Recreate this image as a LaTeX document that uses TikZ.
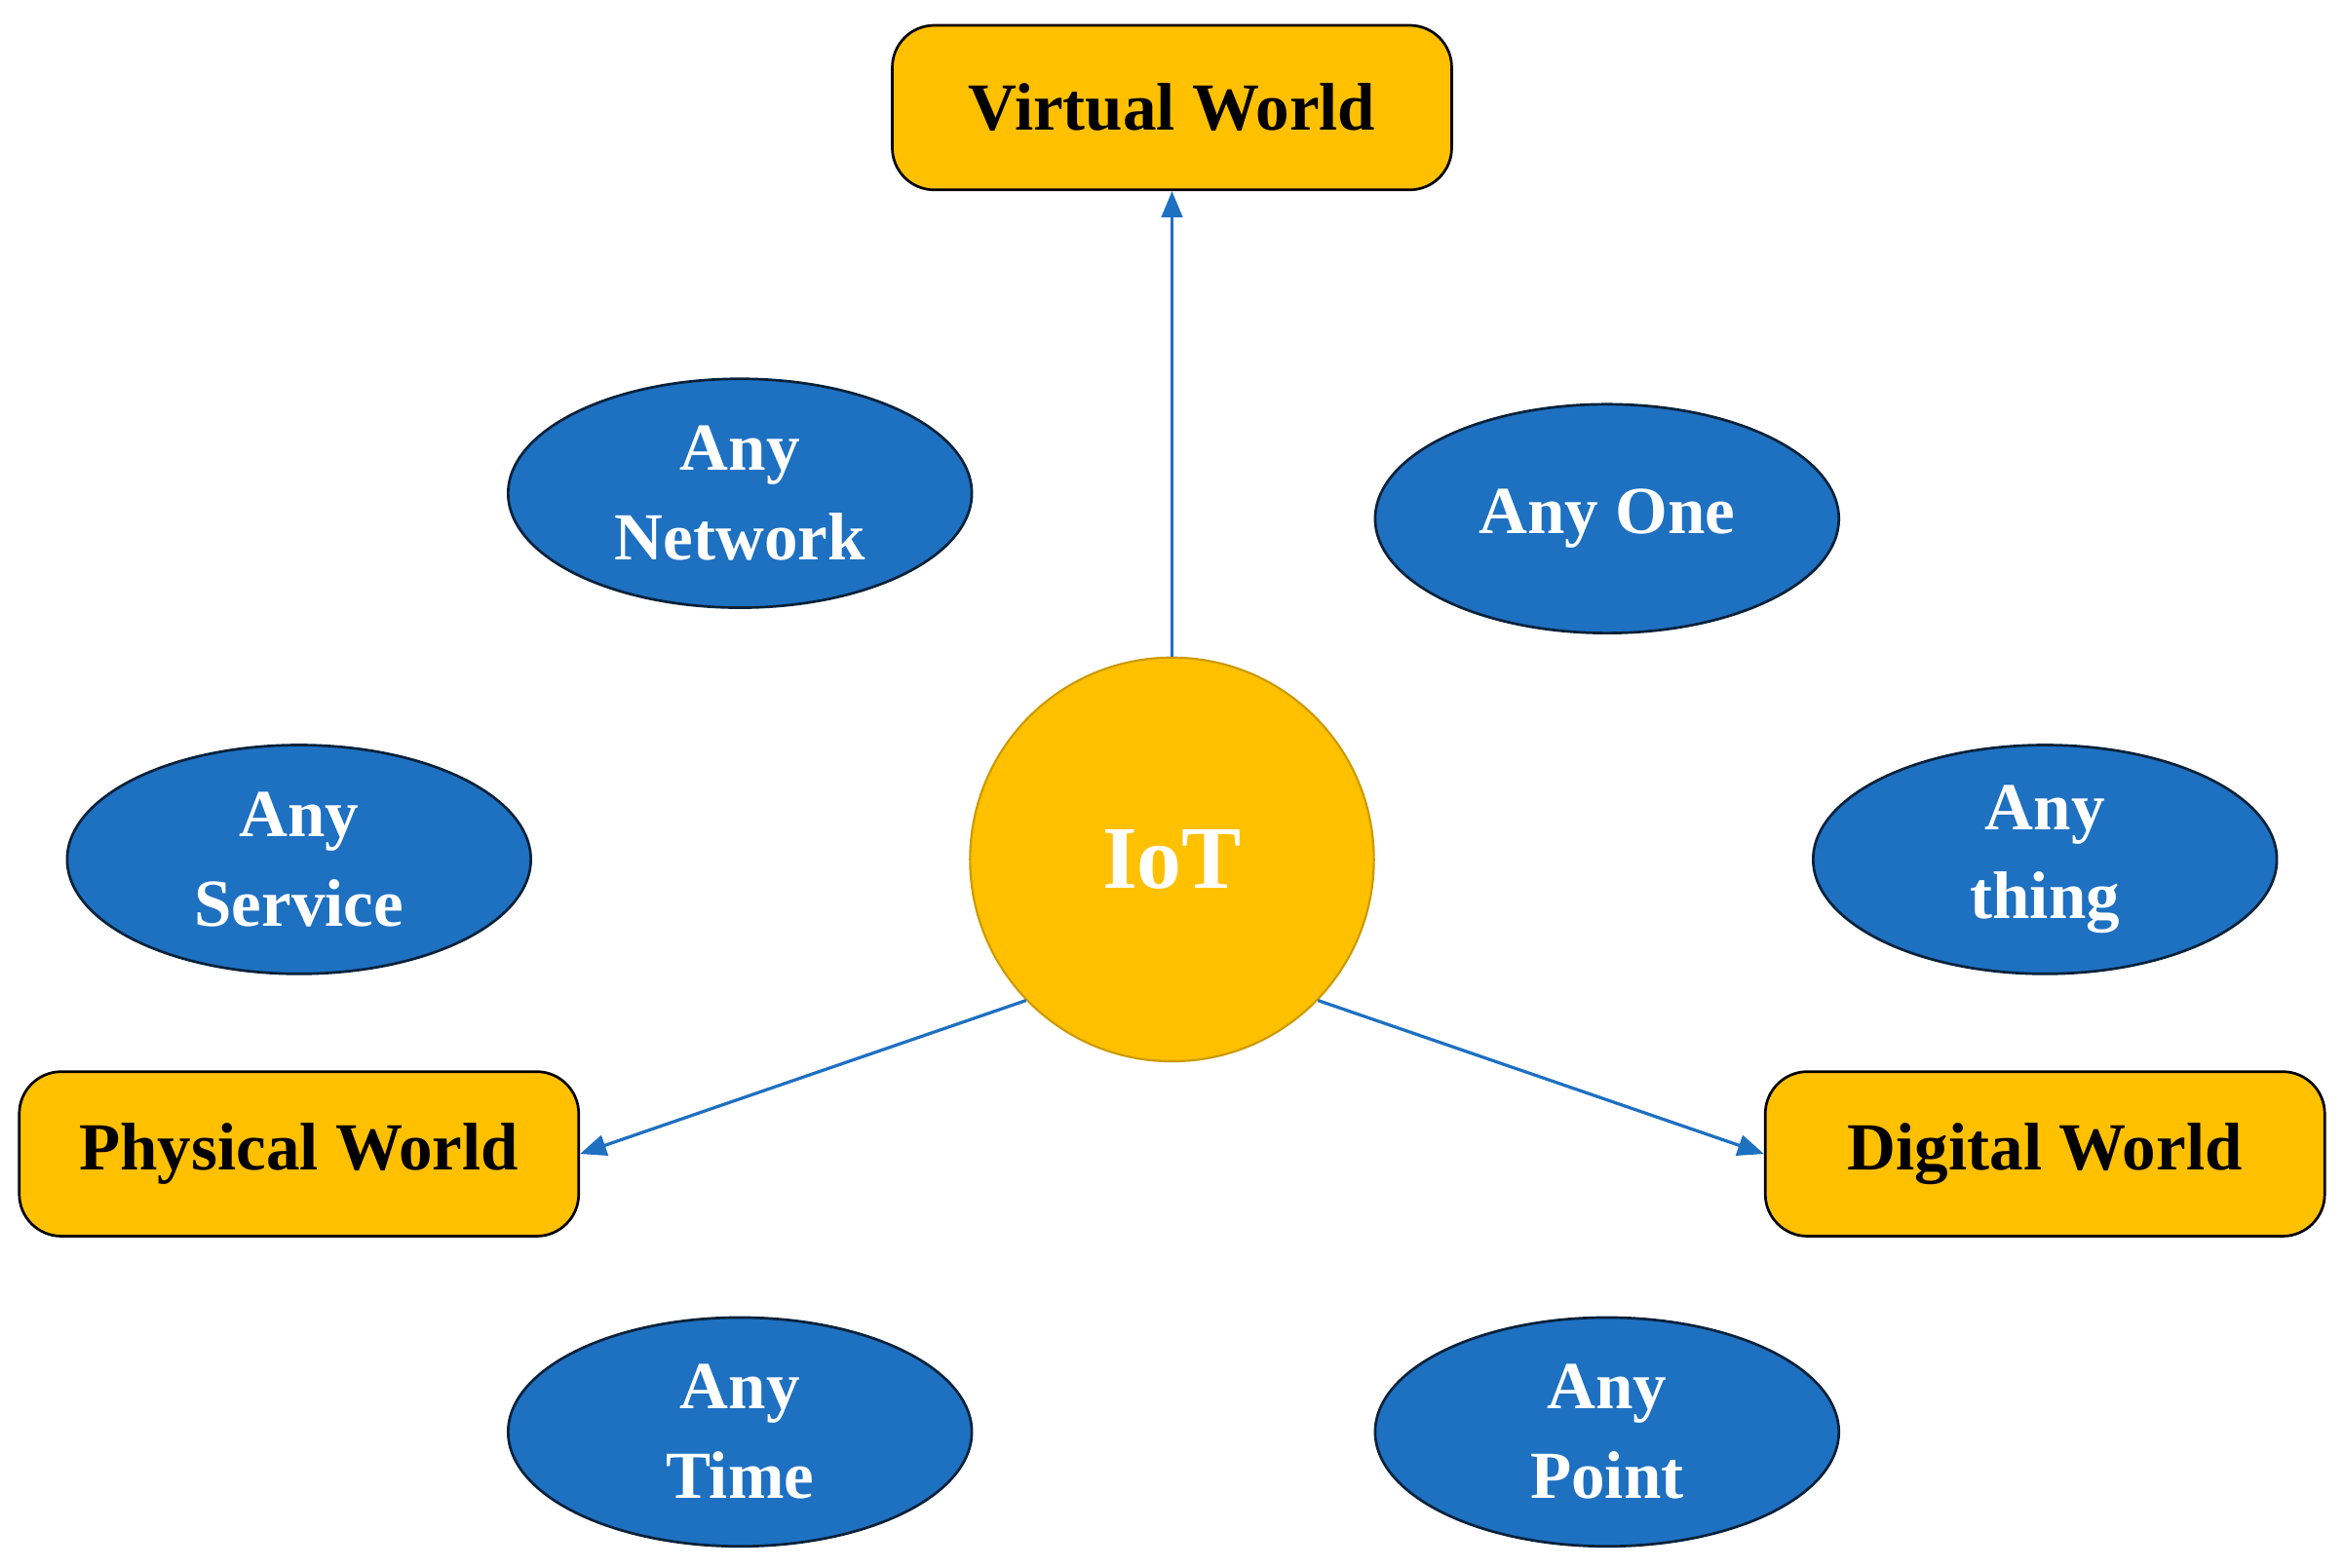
\documentclass[tikz,border=0pt]{standalone}
\usepackage{fontspec}
\setmainfont{Liberation Serif}
\usetikzlibrary{shapes.geometric,arrows.meta}
\definecolor{gold}{HTML}{FFC000}
\definecolor{blu}{HTML}{1E70C1}
\begin{document}
\begin{tikzpicture}[x=0.01cm,y=-0.01cm,
  box/.style={draw=black,line width=0.5pt,fill=gold,rounded corners=8pt,minimum width=3.74cm,minimum height=1.1cm,inner sep=0pt,font=\fontsize{12.8}{15}\selectfont\bfseries},
  ell/.style={ellipse,draw=black!70!blu,line width=0.5pt,fill=blu,minimum width=3.1cm,minimum height=1.53cm,inner sep=0pt,align=center,text=white,font=\fontsize{12.8}{17}\selectfont\bfseries},
  arr/.style={draw=blu,line width=0.6pt,-{Triangle[length=5pt,width=4pt]}}]
\path[use as bounding box] (0,0) rectangle (1568,1049);
\node[box] (virt) at (784,72) {Virtual World};
\node[box] (phys) at (200,772) {Physical World};
\node[box] (dig) at (1368,772) {Digital World};
\node[circle,draw=gold!80!black,line width=0.4pt,fill=gold,minimum size=2.7cm,inner sep=0pt,text=white,font=\fontsize{17}{20}\selectfont\bfseries] (iot) at (784,575) {IoT};
\node[ell] (net) at (495,330) {Any\\Network};
\node[ell] (one) at (1075,347) {Any One};
\node[ell] (serv) at (200,575) {Any\\Service};
\node[ell] (thing) at (1368,575) {Any\\thing};
\node[ell] (time) at (495,958) {Any\\Time};
\node[ell] (point) at (1075,958) {Any\\Point};
\draw[arr] (iot.north) -- (virt.south);
\draw[arr] (iot.224) -- (phys.east);
\draw[arr] (iot.-44) -- (dig.west);
\end{tikzpicture}
\end{document}
